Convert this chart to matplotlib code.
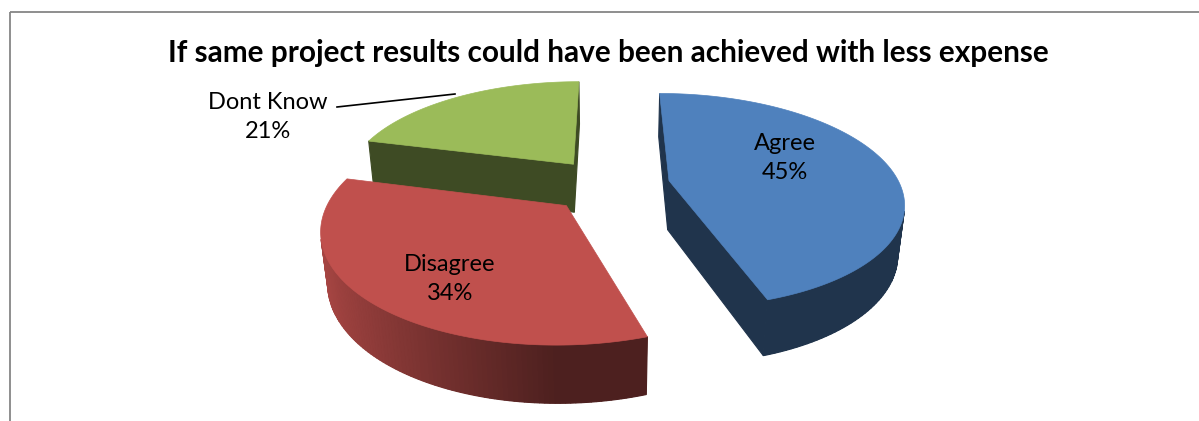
import numpy as np
import matplotlib
matplotlib.use("Agg")
import matplotlib.pyplot as plt
from matplotlib.patches import Polygon, Rectangle

# survey answers
labels = ["Agree", "Disagree", "Dont Know"]
shares = [45, 34, 21]
colors = ["#4F81BD", "#C0504D", "#9BBB59"]
title = "If same project results could have been achieved with less expense"

# 3d pie view settings (pixel space)
cx, cy = 609, 185
R_px = 231
D = 4.8
phi = np.radians(27.0)
h = 0.245
explode = [0.265, 0.26, 0.26]

F = R_px * D


def proj(x, y, z):
    d = D + y * np.cos(phi) - z * np.sin(phi)
    u = x * F / d
    v = (y * np.sin(phi) + z * np.cos(phi)) * F / d
    return cx + u, cy - v


cam = np.array([0.0, -D * np.cos(phi), D * np.sin(phi)])


def shade(c, f):
    rgb = np.array(matplotlib.colors.to_rgb(c))
    return tuple(np.clip(rgb * f, 0, 1))


def wall_factor(a):
    return 0.4 + 0.5 * max(0.0, -np.sin(a))


fig = plt.figure(figsize=(11.99, 4.21), dpi=100)
ax = fig.add_axes([0, 0, 1, 1])
ax.set_xlim(0, 1199)
ax.set_ylim(421, 0)
ax.axis("off")

ax.add_patch(Rectangle((10, 12), 1250, 500, fill=False, edgecolor="#868686", lw=1.3))

ax.text(608, 53, title, ha="center", va="center", fontsize=21.4,
        fontweight="bold", family=["Lato", "DejaVu Sans"])

# slice angles, clockwise from 12 o'clock
bounds = np.cumsum([0] + shares) / sum(shares) * 2 * np.pi
slices = []
for i in range(len(shares)):
    a0, a1 = bounds[i], bounds[i + 1]
    mid = (a0 + a1) / 2
    ox, oy = explode[i] * np.sin(mid), explode[i] * np.cos(mid)
    slices.append((i, a0, a1, ox, oy))

# far slices first
slices.sort(key=lambda s: -s[4])

for i, a0, a1, ox, oy in slices:
    col = colors[i]
    angs = np.linspace(a0, a1, 120)
    rx = ox + np.sin(angs)
    ry = oy + np.cos(angs)
    faces = []
    vis = []
    # outer wall
    for k in range(len(angs) - 1):
        am = (angs[k] + angs[k + 1]) / 2
        n = np.array([np.sin(am), np.cos(am), 0])
        p = np.array([ox + np.sin(am), oy + np.cos(am), -h / 2])
        if np.dot(n, cam - p) <= 0:
            continue
        vis.append(k)
        pts = [proj(rx[k], ry[k], 0), proj(rx[k + 1], ry[k + 1], 0),
               proj(rx[k + 1], ry[k + 1], -h), proj(rx[k], ry[k], -h)]
        faces.append((np.linalg.norm(cam - p), pts, shade(col, wall_factor(am))))
    # underlay so the wall strips don't show seams
    if vis:
        ks = list(range(vis[0], vis[-1] + 2))
        band = [proj(rx[k], ry[k], 0) for k in ks] + [proj(rx[k], ry[k], -h) for k in ks[::-1]]
        mid_fc = faces[len(faces) // 2][2]
        ax.add_patch(Polygon(band, closed=True, facecolor=mid_fc, edgecolor="none"))
    # radial cut faces
    for a, na in ((a0, a0 - np.pi / 2), (a1, a1 + np.pi / 2)):
        n = np.array([np.sin(na), np.cos(na), 0])
        p = np.array([ox + 0.5 * np.sin(a), oy + 0.5 * np.cos(a), -h / 2])
        if np.dot(n, cam - p) <= 0:
            continue
        ex, ey = ox + np.sin(a), oy + np.cos(a)
        pts = [proj(ox, oy, 0), proj(ex, ey, 0), proj(ex, ey, -h), proj(ox, oy, -h)]
        faces.append((np.linalg.norm(cam - p), pts, shade(col, 0.4)))
    faces.sort(key=lambda f: -f[0])
    for _, pts, fc in faces:
        ax.add_patch(Polygon(pts, closed=True, facecolor=fc, edgecolor=fc, lw=0.8))
    top = [proj(ox, oy, 0)] + [proj(x, y, 0) for x, y in zip(rx, ry)]
    ax.add_patch(Polygon(top, closed=True, facecolor=col, edgecolor=col, lw=0.5))

lab_font = dict(fontsize=17, family=["Lato", "DejaVu Sans"], ha="center",
                va="center", linespacing=1.45)
ax.text(785, 158, f"{labels[0]}\n{shares[0]}%", **lab_font)
ax.text(450, 279, f"{labels[1]}\n{shares[1]}%", **lab_font)
ax.text(268, 117, f"{labels[2]}\n{shares[2]}%", **lab_font)
ax.plot([337, 455], [107, 94], color="black", lw=1.2)

fig.savefig("out.png", dpi=100)
